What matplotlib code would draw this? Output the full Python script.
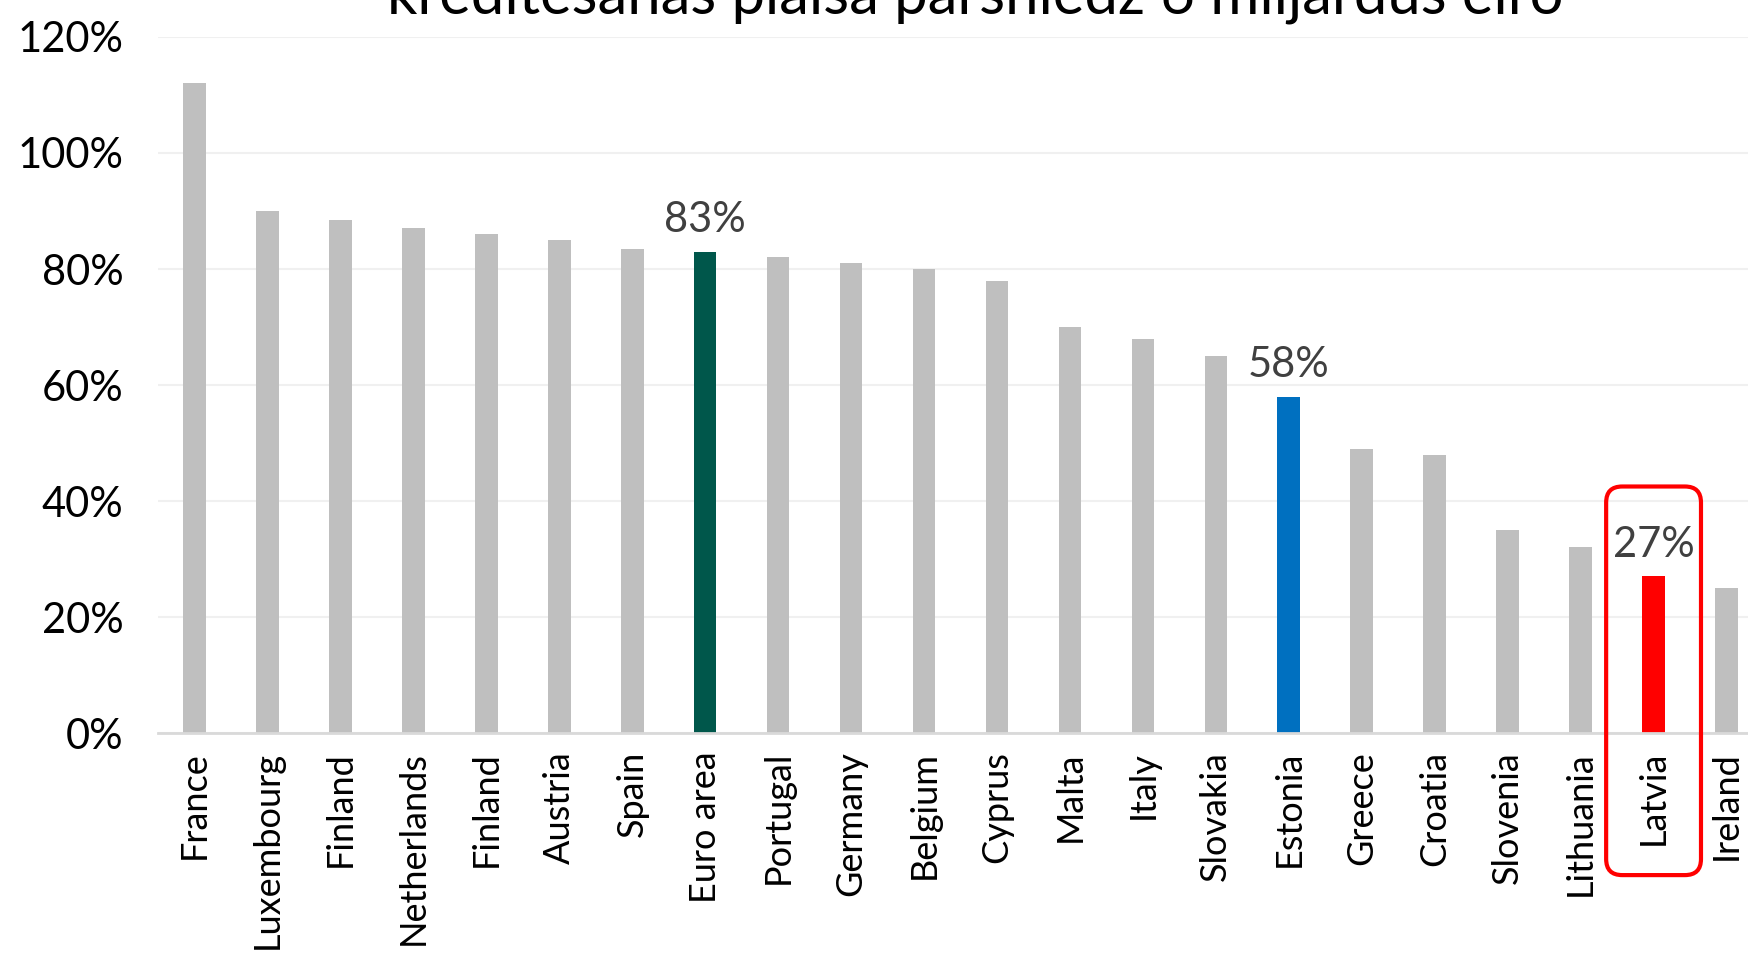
import matplotlib.pyplot as plt
from matplotlib.patches import FancyBboxPatch
from matplotlib.ticker import FuncFormatter

countries = ['France', 'Luxembourg', 'Finland', 'Netherlands', 'Finland', 'Austria',
             'Spain', 'Euro area', 'Portugal', 'Germany', 'Belgium', 'Cyprus', 'Malta',
             'Italy', 'Slovakia', 'Estonia', 'Greece', 'Croatia', 'Slovenia',
             'Lithuania', 'Latvia', 'Ireland']
values = [112, 90, 88.5, 87, 86, 85, 83.5, 83, 82, 81, 80, 78, 70, 68, 65, 58,
          49, 48, 35, 32, 27, 25]
highlight = {'Euro area': '#00574B', 'Estonia': '#0070C0', 'Latvia': '#FF0000'}
title = 'kreditēšanas plaisa pārsniedz 6 miljardus eiro'


def main():
    plt.rcParams['font.family'] = ['Lato', 'DejaVu Sans']

    fig = plt.figure(figsize=(17.48, 9.55), dpi=100)
    ax = fig.add_axes([158 / 1748, 1 - 733 / 955, (1763 - 158) / 1748, (733 - 37) / 955])

    x = list(range(len(countries)))
    colors = [highlight.get(c, '#BFBFBF') for c in countries]
    ax.bar(x, values, width=0.31, color=colors, zorder=3)

    for i, (c, v) in enumerate(zip(countries, values)):
        if c in highlight:
            ax.annotate(f'{v:.0f}%', (i, v), xytext=(0, 9), textcoords='offset points',
                        ha='center', va='bottom', fontsize=30, color='#404040')

    ax.set_xlim(-0.5, len(countries) - 0.5)
    ax.set_ylim(0, 120)
    ax.set_yticks(range(0, 121, 20))
    ax.yaxis.set_major_formatter(FuncFormatter(lambda v, p: f'{v:.0f}%'))
    ax.set_xticks(x)
    ax.set_xticklabels(countries, rotation=90, fontsize=26)
    ax.tick_params(axis='y', labelsize=30, length=0, pad=25)
    ax.tick_params(axis='x', length=0, pad=13)

    ax.grid(axis='y', color='#F0F0F0', linewidth=1.5, zorder=0)
    for side in ['top', 'right', 'left']:
        ax.spines[side].set_visible(False)
    ax.spines['bottom'].set_color('#D9D9D9')
    ax.spines['bottom'].set_linewidth(2)
    ax.spines['bottom'].set_zorder(4)

    # red rounded frame round Latvia
    li = countries.index('Latvia')
    px_x = 73.0
    px_y = 5.8
    box = FancyBboxPatch((li - 0.65, -24.5), 1.3, 67,
                         boxstyle='round,pad=0,rounding_size=0.22',
                         mutation_aspect=px_x / px_y,
                         fill=False, edgecolor='#FF0000', linewidth=3,
                         clip_on=False, zorder=5)
    ax.add_patch(box)

    fig.text(975 / 1748, 1 - 13 / 955, title, ha='center', va='baseline',
             fontsize=43, color='black')

    fig.savefig('out.png', dpi=100)


if __name__ == '__main__':
    main()
